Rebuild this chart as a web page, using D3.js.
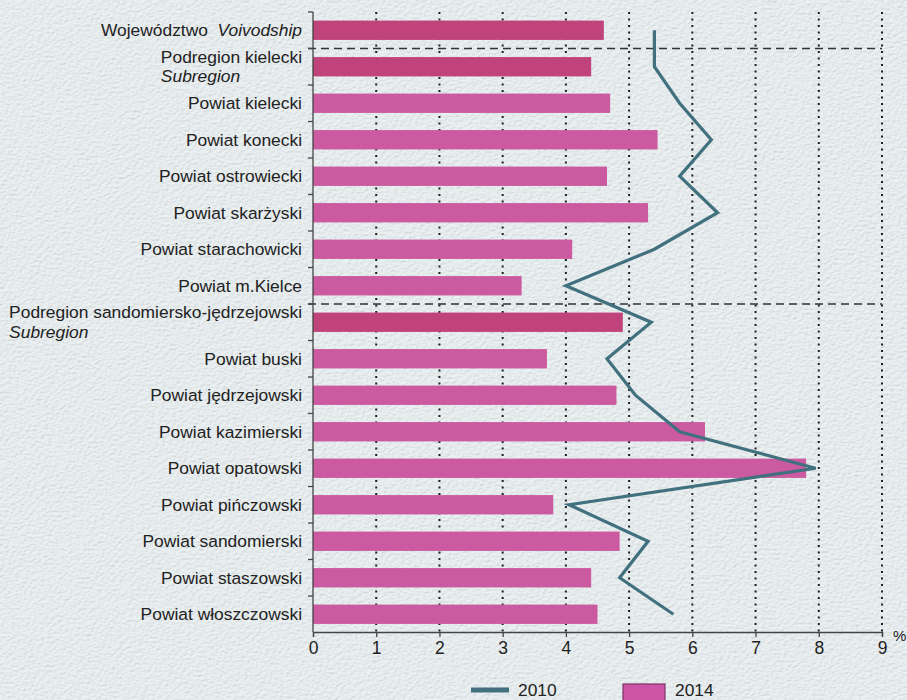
<!DOCTYPE html>
<html>
<head>
<meta charset="utf-8">
<script src="https://cdn.jsdelivr.net/npm/d3@7"></script>
<style>
  html, body { margin: 0; padding: 0; background: #e7eef0; }
  svg { display: block; }
  text { font-family: "Liberation Sans", Arial, sans-serif; fill: #222; }
</style>
</head>
<body>
<svg id="chart" width="907" height="700"></svg>
<script>
// Units (rows, top to bottom)
const labelMain = [
  "Województwo", "Podregion kielecki", "Powiat kielecki", "Powiat konecki",
  "Powiat ostrowiecki", "Powiat skarżyski", "Powiat starachowicki", "Powiat m.Kielce",
  "Podregion sandomiersko-jędrzejowski", "Powiat buski", "Powiat jędrzejowski",
  "Powiat kazimierski", "Powiat opatowski", "Powiat pińczowski", "Powiat sandomierski",
  "Powiat staszowski", "Powiat włoszczowski"
];
const labelEn = [
  "Voivodship", "Subregion", "", "", "", "", "", "",
  "Subregion", "", "", "", "", "", "", "", ""
];
const level = [
  "voivodship", "subregion", "powiat", "powiat", "powiat", "powiat", "powiat", "powiat",
  "subregion", "powiat", "powiat", "powiat", "powiat", "powiat", "powiat", "powiat", "powiat"
];

// Values, %
const values2014 = [4.6, 4.4, 4.7, 5.45, 4.65, 5.3, 4.1, 3.3, 4.9, 3.7, 4.8, 6.2, 7.8, 3.8, 4.85, 4.4, 4.5];
const values2010 = [5.4, 5.4, 5.8, 6.3, 5.8, 6.4, 5.4, 4.0, 5.35, 4.65, 5.1, 5.8, 7.95, 4.05, 5.3, 4.85, 5.7];

const xTicks = [0, 1, 2, 3, 4, 5, 6, 7, 8, 9];
const seriesNames = ["2010", "2014"];

const rows = labelMain.map((name, i) => ({
  i, name, en: labelEn[i], level: level[i], v2014: values2014[i], v2010: values2010[i]
}));

const svg = d3.select("#chart");

// Fine-grained paper texture for the background
const defs = svg.append("defs");
const f = defs.append("filter").attr("id", "paper")
  .attr("x", 0).attr("y", 0).attr("width", "100%").attr("height", "100%");
f.append("feTurbulence").attr("type", "fractalNoise")
  .attr("baseFrequency", "0.28 0.42").attr("numOctaves", 2).attr("seed", 3).attr("result", "noise");
f.append("feDiffuseLighting").attr("in", "noise").attr("lighting-color", "#f4f8f9")
  .attr("surfaceScale", 1.2).attr("result", "lit")
  .append("feDistantLight").attr("azimuth", 60).attr("elevation", 62);
svg.append("rect").attr("width", 907).attr("height", 700).attr("fill", "#e6edef");
svg.append("rect").attr("width", 907).attr("height", 700)
  .attr("filter", "url(#paper)").attr("opacity", 0.5);

const x = d3.scaleLinear().domain([0, 9]).range([313, 882]);
const y = d3.scaleBand().domain(rows.map(d => d.i)).range([12, 632.5]).padding(0);
const step = y.step();
const barH = step * 0.53;
const cy = i => y(i) + step / 2;

const colorBar = { voivodship: "#c0437b", subregion: "#c0437b", powiat: "#cb5aa0" };
const lineColor = "#41707f";

// Dotted vertical gridlines
svg.append("g").selectAll("line").data(xTicks.filter(t => t > 0)).join("line")
  .attr("x1", d => x(d)).attr("x2", d => x(d))
  .attr("y1", 12).attr("y2", 632)
  .attr("stroke", "#1e1e1e").attr("stroke-width", 2)
  .attr("stroke-dasharray", "2 4.5");

// Bars (2014)
svg.append("g").selectAll("rect").data(rows).join("rect")
  .attr("x", x(0))
  .attr("y", d => cy(d.i) - barH / 2)
  .attr("width", d => x(d.v2014) - x(0))
  .attr("height", barH)
  .attr("fill", d => colorBar[d.level]);

// Dashed separators between groups
const separators = rows.filter(d => d.level === "subregion").map(d => y(d.i));
svg.append("g").selectAll("line").data(separators).join("line")
  .attr("x1", 308).attr("x2", 882)
  .attr("y1", d => d).attr("y2", d => d)
  .attr("stroke", "#333").attr("stroke-width", 1.6)
  .attr("stroke-dasharray", "8 5");

// Line (2010)
const line = d3.line().x(d => x(d.v2010)).y(d => cy(d.i));
svg.append("path").datum(rows)
  .attr("d", line)
  .attr("fill", "none")
  .attr("stroke", lineColor)
  .attr("stroke-width", 3.2)
  .attr("stroke-linejoin", "miter");

// X axis
const xAxis = d3.axisBottom(x).tickValues(xTicks).tickSize(5).tickPadding(5)
  .tickFormat(d3.format("d"));
const gx = svg.append("g").attr("transform", "translate(0,632)").call(xAxis);
gx.select(".domain").attr("stroke", "#444").attr("stroke-width", 1.3);
gx.selectAll(".tick line").attr("stroke", "#444").attr("stroke-width", 1.3);
gx.selectAll(".tick text")
  .attr("font-family", "Liberation Sans, Arial, sans-serif")
  .attr("font-size", 17.5).attr("fill", "#2a2a2a");
svg.append("text").attr("x", 893).attr("y", 641)
  .attr("font-size", 15).attr("fill", "#2a2a2a").text("%");

// Y axis line with ticks at row boundaries
const gy = svg.append("g");
gy.append("line").attr("x1", 313).attr("x2", 313).attr("y1", 12).attr("y2", 632)
  .attr("stroke", "#444").attr("stroke-width", 1.3);
gy.selectAll("line.tk").data(d3.range(rows.length)).join("line").attr("class", "tk")
  .attr("x1", 308).attr("x2", 313)
  .attr("y1", d => y(d)).attr("y2", d => y(d))
  .attr("stroke", "#444").attr("stroke-width", 1.3);

// Category labels
const labelX = 302;
const gl = svg.append("g").attr("font-size", 17.4);
rows.forEach(d => {
  if (d.level === "voivodship") {
    const t = gl.append("text").attr("x", labelX).attr("y", cy(d.i)).attr("dy", "0.35em")
      .attr("text-anchor", "end");
    t.append("tspan").text(d.name + "\u00a0\u00a0");
    t.append("tspan").attr("font-style", "italic").text(d.en);
  } else if (d.level === "subregion") {
    const t1 = gl.append("text").attr("x", labelX).attr("y", cy(d.i) - 10).attr("dy", "0.35em")
      .attr("text-anchor", "end").text(d.name);
    const w = t1.node().getComputedTextLength();
    gl.append("text").attr("x", labelX - w).attr("y", cy(d.i) + 9.5).attr("dy", "0.35em")
      .attr("font-style", "italic").text(d.en);
  } else {
    gl.append("text").attr("x", labelX).attr("y", cy(d.i)).attr("dy", "0.35em")
      .attr("text-anchor", "end").text(d.name);
  }
});

// Legend
const lg = svg.append("g").attr("font-size", 17.4);
lg.append("line").attr("x1", 471).attr("x2", 509).attr("y1", 690).attr("y2", 690)
  .attr("stroke", lineColor).attr("stroke-width", 5);
lg.append("text").attr("x", 518).attr("y", 696).text(seriesNames[0]);
lg.append("rect").attr("x", 623).attr("y", 684).attr("width", 42).attr("height", 22)
  .attr("fill", "#cc55a6").attr("stroke", "#7d3466").attr("stroke-width", 1.2);
lg.append("text").attr("x", 675).attr("y", 696).text(seriesNames[1]);
</script>
</body>
</html>
